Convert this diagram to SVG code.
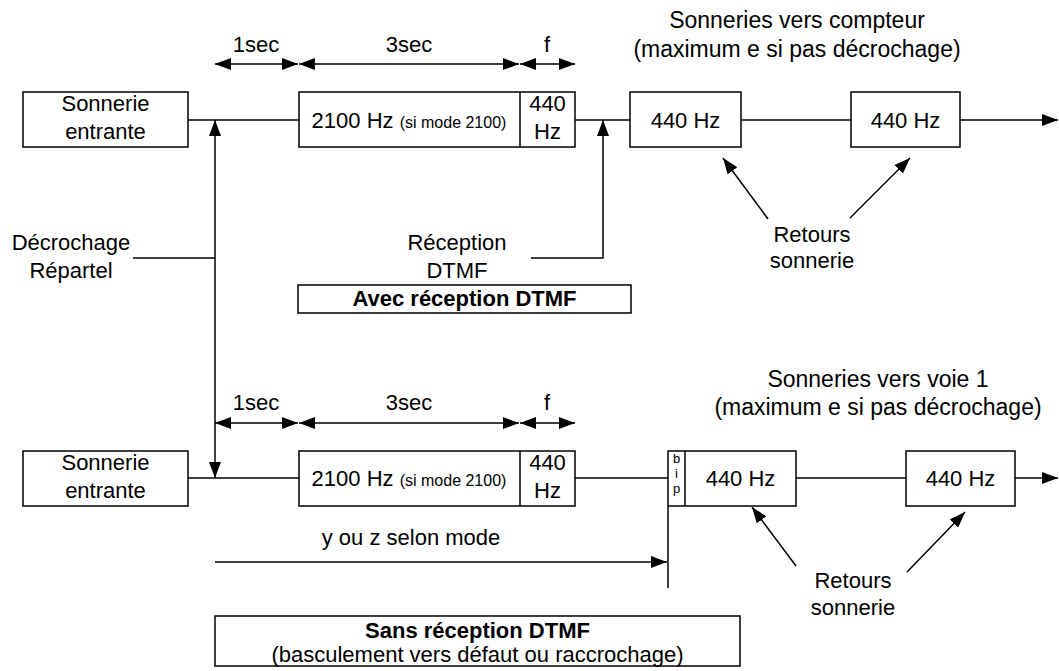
<svg xmlns="http://www.w3.org/2000/svg" width="1059" height="671" viewBox="0 0 1059 671">
<defs>
<style>
text{font-family:"Liberation Sans",Arial,sans-serif;fill:#000}
.t{font-size:22px}
.h{font-size:23px}
.s{font-size:16px}
.b{font-size:22px;font-weight:bold}
.bip{font-size:13px}
.box{fill:#fff;stroke:#000;stroke-width:1.5}
.ln{fill:none;stroke:#000;stroke-width:1.5}
.ar{fill:none;stroke:#000;stroke-width:1.5;marker-end:url(#ah)}
.dim{fill:none;stroke:#000;stroke-width:1.5;marker-start:url(#ah);marker-end:url(#ah)}
</style>
<marker id="ah" markerUnits="userSpaceOnUse" markerWidth="16" markerHeight="12" refX="16" refY="6" orient="auto-start-reverse" viewBox="0 0 16 12">
<path d="M0,0 L16,6 L0,12 z" fill="#000"/>
</marker>
</defs>
<rect width="1059" height="671" fill="#fff"/>

<g id="connectors">
<!-- top row -->
<line class="ln" x1="188" y1="120" x2="299" y2="120"/>
<line class="ln" x1="575" y1="120" x2="630" y2="120"/>
<line class="ln" x1="741" y1="120" x2="851" y2="120"/>
<line class="ar" x1="960" y1="120" x2="1058" y2="120"/>
<!-- décrochage vertical double arrow -->
<line class="dim" x1="215" y1="478" x2="215" y2="120"/>
<line class="ln" x1="133" y1="258" x2="215" y2="258"/>
<!-- réception DTMF -->
<polyline class="ar" points="531,258 603,258 603,120"/>
<!-- top dims -->
<line class="dim" x1="215" y1="64" x2="298" y2="64"/>
<line class="dim" x1="299" y1="64" x2="519" y2="64"/>
<line class="dim" x1="520" y1="64" x2="575" y2="64"/>
<!-- retours top -->
<line class="ar" x1="768" y1="219" x2="723" y2="158"/>
<line class="ar" x1="850" y1="218" x2="910" y2="158"/>
<!-- bottom row -->
<line class="ln" x1="188" y1="478" x2="299" y2="478"/>
<line class="ln" x1="575" y1="478" x2="668" y2="478"/>
<line class="ln" x1="796" y1="478" x2="906" y2="478"/>
<line class="ar" x1="1015" y1="478" x2="1058" y2="478"/>
<line class="dim" x1="215" y1="423" x2="298" y2="423"/>
<line class="dim" x1="299" y1="423" x2="519" y2="423"/>
<line class="dim" x1="520" y1="423" x2="575" y2="423"/>
<line class="ln" x1="668" y1="506" x2="668" y2="588"/>
<line class="ar" x1="215" y1="562" x2="667" y2="562"/>
<line class="ar" x1="796" y1="566" x2="752" y2="507"/>
<line class="ar" x1="907" y1="572" x2="965" y2="512"/>
</g>

<g id="dims-labels">
<text class="t" x="256" y="52" text-anchor="middle">1sec</text>
<text class="t" x="409" y="52" text-anchor="middle">3sec</text>
<text class="t" x="547" y="52" text-anchor="middle">f</text>
<text class="t" x="256" y="410" text-anchor="middle">1sec</text>
<text class="t" x="409" y="410" text-anchor="middle">3sec</text>
<text class="t" x="547" y="410" text-anchor="middle">f</text>
</g>

<g id="n-sonnerie-top">
<rect class="box" x="23" y="92" width="165" height="55"/>
<text class="t" x="105.5" y="111" text-anchor="middle">Sonnerie</text>
<text class="t" x="105.5" y="139" text-anchor="middle">entrante</text>
</g>
<g id="n-2100-top">
<rect class="box" x="299" y="92" width="276" height="55"/>
<line class="ln" x1="520" y1="92" x2="520" y2="147"/>
<text x="409" y="128" text-anchor="middle"><tspan class="t">2100 Hz </tspan><tspan class="s">(si mode 2100)</tspan></text>
<text class="t" x="547.5" y="111" text-anchor="middle">440</text>
<text class="t" x="547.5" y="139" text-anchor="middle">Hz</text>
</g>
<g id="n-440a-top">
<rect class="box" x="630" y="92" width="111" height="55"/>
<text class="t" x="685.5" y="128" text-anchor="middle">440 Hz</text>
</g>
<g id="n-440b-top">
<rect class="box" x="851" y="92" width="109" height="55"/>
<text class="t" x="905.5" y="128" text-anchor="middle">440 Hz</text>
</g>
<g id="n-heading-top">
<text class="h" x="797" y="28" text-anchor="middle">Sonneries vers compteur</text>
<text class="h" x="797" y="57" text-anchor="middle">(maximum e si pas décrochage)</text>
</g>
<g id="n-decrochage">
<text class="t" x="71" y="250" text-anchor="middle">Décrochage</text>
<text class="t" x="71" y="278" text-anchor="middle">Répartel</text>
</g>
<g id="n-reception">
<text class="t" x="457" y="250" text-anchor="middle">Réception</text>
<text class="t" x="457" y="278" text-anchor="middle">DTMF</text>
</g>
<g id="n-avec">
<rect class="box" x="298" y="285" width="333" height="28"/>
<text class="b" x="464.5" y="306" text-anchor="middle">Avec réception DTMF</text>
</g>
<g id="n-retours-top">
<text class="t" x="812" y="242" text-anchor="middle">Retours</text>
<text class="t" x="812" y="268" text-anchor="middle">sonnerie</text>
</g>

<g id="n-sonnerie-bot">
<rect class="box" x="23" y="451" width="165" height="55"/>
<text class="t" x="105.5" y="470" text-anchor="middle">Sonnerie</text>
<text class="t" x="105.5" y="498" text-anchor="middle">entrante</text>
</g>
<g id="n-2100-bot">
<rect class="box" x="299" y="451" width="276" height="55"/>
<line class="ln" x1="520" y1="451" x2="520" y2="506"/>
<text x="409" y="486" text-anchor="middle"><tspan class="t">2100 Hz </tspan><tspan class="s">(si mode 2100)</tspan></text>
<text class="t" x="547.5" y="470" text-anchor="middle">440</text>
<text class="t" x="547.5" y="498" text-anchor="middle">Hz</text>
</g>
<g id="n-440a-bot">
<rect class="box" x="668" y="451" width="128" height="55"/>
<line class="ln" x1="685" y1="451" x2="685" y2="506"/>
<text class="bip" x="676.5" y="463" text-anchor="middle">b</text>
<text class="bip" x="676.5" y="478" text-anchor="middle">i</text>
<text class="bip" x="676.5" y="493" text-anchor="middle">p</text>
<text class="t" x="740.5" y="486" text-anchor="middle">440 Hz</text>
</g>
<g id="n-440b-bot">
<rect class="box" x="906" y="451" width="109" height="55"/>
<text class="t" x="960.5" y="486" text-anchor="middle">440 Hz</text>
</g>
<g id="n-heading-bot">
<text class="h" x="878" y="387" text-anchor="middle">Sonneries vers voie 1</text>
<text class="h" x="878" y="415" text-anchor="middle">(maximum e si pas décrochage)</text>
</g>
<g id="n-yz">
<text class="t" x="411" y="545" text-anchor="middle">y ou z selon mode</text>
</g>
<g id="n-retours-bot">
<text class="t" x="853" y="588" text-anchor="middle">Retours</text>
<text class="t" x="853" y="615" text-anchor="middle">sonnerie</text>
</g>
<g id="n-sans">
<rect class="box" x="215" y="616" width="525" height="50"/>
<text class="b" x="477.5" y="638" text-anchor="middle">Sans réception DTMF</text>
<text class="t" x="477.5" y="662" text-anchor="middle">(basculement vers défaut ou raccrochage)</text>
</g>
</svg>
